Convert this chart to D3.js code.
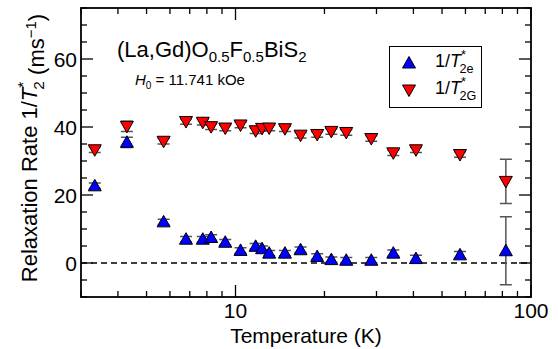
<html>
<head>
  <script src="https://cdnjs.cloudflare.com/ajax/libs/d3/7.8.5/d3.min.js"></script>
  <style>
    body { margin: 0; background: #fff; }
    text { font-family: "Liberation Sans", Arial, sans-serif; }
  </style>
</head>
<body>
  <svg id="chart" width="558" height="349"></svg>
  <script>
    // temperatures (K) and relaxation rates (ms^-1)
    var temps = [3.34, 4.29, 5.71, 6.80, 7.75, 8.27, 9.23, 10.4, 11.7, 12.3, 13.0,
      14.7, 16.6, 18.9, 21.1, 23.7, 28.8, 34.2, 40.8, 57.5, 82.2];
    var rate2e = [22.7, 35.5, 12.1, 7.0, 7.0, 7.5, 6.1, 3.7, 4.9, 4.2, 2.9,
      2.9, 3.9, 1.9, 1.0, 0.8, 0.8, 2.9, 1.3, 2.4, 3.6];
    var err2e = [0.8, 1.5, 0.8, 0.8, 0.8, 0.8, 0.8, 0.8, 0.8, 0.8, 0.8,
      0.8, 0.8, 0.8, 0.8, 0.8, 0.8, 0.9, 1.0, 1.0, 10.0];
    var rate2G = [33.3, 40.2, 35.8, 41.6, 41.4, 40.1, 39.7, 40.6, 38.9, 39.6, 39.7,
      39.5, 37.6, 37.8, 38.7, 38.4, 36.6, 32.4, 33.3, 31.9, 24.0];
    var err2G = [0.8, 1.5, 0.8, 0.8, 0.8, 0.8, 0.8, 0.8, 0.8, 0.8, 0.8,
      0.8, 0.8, 0.8, 0.8, 0.8, 0.8, 0.8, 0.8, 0.8, 6.5];
    var xMajor = [10, 100];
    var yMajor = [0, 20, 40, 60];

    var L = 81, R = 531, T = 8, B = 297;
    var svg = d3.select("#chart");
    var x = d3.scaleLog().domain([3, 100]).range([L, R]);
    var y = d3.scaleLinear().domain([-10, 75]).range([B, T]);

    var xMinor = [];
    [1, 10].forEach(function (d) {
      for (var k = 1; k <= 9; k++) {
        var v = d * k;
        if (v >= 3 && v <= 100 && xMajor.indexOf(v) < 0) xMinor.push(v);
      }
    });
    var yMinor = d3.range(-10, 76, 5).filter(v => yMajor.indexOf(v) < 0);

    // dashed zero line
    svg.append("line")
      .attr("x1", L).attr("x2", R)
      .attr("y1", y(0)).attr("y2", y(0))
      .style("stroke", "black").style("stroke-width", 1.3)
      .style("stroke-dasharray", "6,4");

    // ticks on all four sides, pointing inward
    var tk = svg.append("g").style("stroke", "black").style("stroke-width", 1.3);
    function xTicks(vals, len) {
      vals.forEach(function (v) {
        tk.append("line").attr("x1", x(v)).attr("x2", x(v)).attr("y1", B).attr("y2", B - len);
        tk.append("line").attr("x1", x(v)).attr("x2", x(v)).attr("y1", T).attr("y2", T + len);
      });
    }
    function yTicks(vals, len) {
      vals.forEach(function (v) {
        tk.append("line").attr("y1", y(v)).attr("y2", y(v)).attr("x1", L).attr("x2", L + len);
        tk.append("line").attr("y1", y(v)).attr("y2", y(v)).attr("x1", R).attr("x2", R - len);
      });
    }
    xTicks(xMajor, 12); xTicks(xMinor, 6);
    yTicks(yMajor, 12); yTicks(yMinor, 6);

    svg.selectAll(".xl").data(xMajor).enter().append("text")
      .attr("x", d => x(d)).attr("y", 318)
      .attr("text-anchor", "middle").style("font-size", "21px").text(d => d);
    svg.selectAll(".yl").data(yMajor).enter().append("text")
      .attr("x", 77).attr("y", d => y(d) + 8)
      .attr("text-anchor", "end").style("font-size", "21px").text(d => d);

    // frame
    svg.append("rect").attr("x", L).attr("y", T).attr("width", R - L).attr("height", B - T)
      .style("fill", "none").style("stroke", "black").style("stroke-width", 1.8);

    // axis titles
    svg.append("text").attr("x", 306).attr("y", 343).attr("text-anchor", "middle")
      .style("font-size", "21px").text("Temperature (K)");

    function tStar(txt, sub, size) {
      txt.append("tspan").style("font-style", "italic").text("T");
      txt.append("tspan").attr("dy", -size * 0.42).style("font-size", size * 0.7 + "px").text("*");
      txt.append("tspan").attr("dx", -size * 0.36).attr("dy", size * 0.75)
        .style("font-size", size * 0.7 + "px").text(sub);
      txt.append("tspan").attr("dy", -size * 0.33).text("");
    }

    var yl = svg.append("text").attr("transform", "translate(37,148) rotate(-90)")
      .attr("text-anchor", "middle").style("font-size", "22px");
    yl.append("tspan").text("Relaxation Rate 1/");
    tStar(yl, "2", 22);
    yl.append("tspan").text(" (ms");
    yl.append("tspan").attr("dy", -8).style("font-size", "15px").text("\u22121");
    yl.append("tspan").attr("dy", 8).text(")");

    // sample label
    var t1 = svg.append("text").attr("x", 117).attr("y", 57).style("font-size", "22px");
    t1.append("tspan").text("(La,Gd)O");
    t1.append("tspan").attr("dy", 5).style("font-size", "15px").text("0.5");
    t1.append("tspan").attr("dy", -5).text("F");
    t1.append("tspan").attr("dy", 5).style("font-size", "15px").text("0.5");
    t1.append("tspan").attr("dy", -5).text("BiS");
    t1.append("tspan").attr("dy", 5).style("font-size", "15px").text("2");

    var t2 = svg.append("text").attr("x", 135).attr("y", 85).style("font-size", "15px");
    t2.append("tspan").style("font-style", "italic").text("H");
    t2.append("tspan").attr("dy", 4).style("font-size", "10px").text("0");
    t2.append("tspan").attr("dy", -4).text(" = 11.741 kOe");

    // markers
    var up = "M0,-6.5L6.5,5L-6.5,5Z", down = "M0,6.5L6.5,-5L-6.5,-5Z";
    function series(vals, errs, path, color) {
      var g = svg.append("g");
      var pts = temps.map((t, i) => ({ t: t, v: vals[i], e: errs[i] }));
      g.selectAll(".eb").data(pts).enter().append("path")
        .attr("d", d => "M" + x(d.t) + "," + y(d.v - d.e) + "V" + y(d.v + d.e) +
          "M" + (x(d.t) - 6) + "," + y(d.v - d.e) + "h12" +
          "M" + (x(d.t) - 6) + "," + y(d.v + d.e) + "h12")
        .style("stroke", "#555").style("stroke-width", 1.5).style("fill", "none");
      g.selectAll(".mk").data(pts).enter().append("path")
        .attr("d", path)
        .attr("transform", d => "translate(" + x(d.t) + "," + y(d.v) + ")")
        .style("fill", color).style("stroke", "black").style("stroke-width", 1);
    }
    series(rate2e, err2e, up, "#0000ff");
    series(rate2G, err2G, down, "#ff0000");

    // legend
    svg.append("rect").attr("x", 389.5).attr("y", 46.5).attr("width", 92).attr("height", 61)
      .style("fill", "white").style("stroke", "black").style("stroke-width", 1);
    svg.append("path").attr("d", up).attr("transform", "translate(409,63)")
      .style("fill", "#0000ff").style("stroke", "black").style("stroke-width", 1);
    svg.append("path").attr("d", down).attr("transform", "translate(409,90)")
      .style("fill", "#ff0000").style("stroke", "black").style("stroke-width", 1);
    var lg1 = svg.append("text").attr("x", 435).attr("y", 67).style("font-size", "18px");
    lg1.append("tspan").text("1/");
    tStar(lg1, "2e", 18);
    var lg2 = svg.append("text").attr("x", 435).attr("y", 94).style("font-size", "18px");
    lg2.append("tspan").text("1/");
    tStar(lg2, "2G", 18);
  </script>
</body>
</html>
